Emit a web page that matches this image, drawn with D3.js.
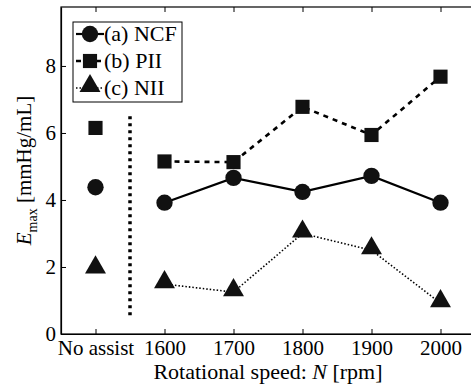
<!DOCTYPE html>
<html><head><meta charset="utf-8">
<script src="https://cdn.jsdelivr.net/npm/d3@7"></script>
<style>svg text, svg tspan { font-family: 'Liberation Serif', 'Times New Roman', Tinos, Times !important; }</style>
</head><body style="margin:0"><svg id="c" width="471" height="385" style="display:block"></svg>
<script>
const categories = ["No assist","1600","1700","1800","1900","2000"];
const ncf = [4.38, 3.92, 4.66, 4.24, 4.72, 3.92];
const pii = [6.15, 5.15, 5.13, 6.78, 5.94, 7.68];
const nii = [1.93, 1.49, 1.25, 3.0, 2.5, 0.92];
const yTicks = [0,2,4,6,8];
const series = [
  {name:"(a) NCF", values:ncf, shape:"circle", dash:null, width:2.2},
  {name:"(b) PII", values:pii, shape:"square", dash:"5,5", width:2.6},
  {name:"(c) NII", values:nii, shape:"triangle", dash:"1.5,2", width:1.6}
];
const separator = {pos:0.5, y0:0.5, y1:6.5};

const svg = d3.select("#c");
const L=61, R=475, T=7, B=334;
const x = d3.scaleLinear().domain([-0.5, categories.length-0.5]).range([L,R]);
const y = d3.scaleLinear().domain([0, 9.76]).range([B,T]);

svg.append("rect").attr("x",L).attr("y",T).attr("width",R-L).attr("height",B-T)
  .attr("fill","none").attr("stroke","#000").attr("stroke-width",1.2);

const xb = svg.append("g").attr("transform",`translate(0,${B})`)
  .call(d3.axisBottom(x).tickValues(d3.range(categories.length)).tickSizeInner(-5).tickSizeOuter(0).tickPadding(6)
    .tickFormat(i=>categories[i]));
xb.attr("font-family","Times New Roman").attr("font-size",21);
xb.select(".domain").attr("stroke-width",1.2);
xb.selectAll("text").attr("fill","#000");
const xt = svg.append("g").attr("transform",`translate(0,${T})`)
  .call(d3.axisTop(x).tickValues(d3.range(categories.length)).tickSizeInner(-5).tickSizeOuter(0).tickFormat(""));
xt.select(".domain").remove();

const yl = svg.append("g").attr("transform",`translate(${L},0)`)
  .call(d3.axisLeft(y).tickValues(yTicks).tickSizeInner(-5).tickSizeOuter(0).tickPadding(5).tickFormat(d3.format("d")));
yl.attr("font-family","Times New Roman").attr("font-size",21);
yl.select(".domain").attr("stroke-width",1.2);
yl.selectAll("text").attr("fill","#000");

svg.append("line").attr("x1",x(separator.pos)).attr("x2",x(separator.pos))
  .attr("y1",y(separator.y1)).attr("y2",y(separator.y0))
  .attr("stroke","#000").attr("stroke-width",3.5).attr("stroke-dasharray","3,4");

const sym = {
  circle: d3.symbol().type(d3.symbolCircle).size(210),
  square: d3.symbol().type(d3.symbolSquare).size(200),
  triangle: d3.symbol().type(d3.symbolTriangle).size(190)
};

series.forEach(s=>{
  const pts = s.values.slice(1).map((v,i)=>[x(i+1), y(v)]);
  const ln = svg.append("path").attr("d", d3.line()(pts)).attr("fill","none")
    .attr("stroke","#000").attr("stroke-width",s.width);
  if (s.dash) ln.attr("stroke-dasharray", s.dash);
  s.values.forEach((v,i)=>{
    svg.append("path").attr("d",sym[s.shape]()).attr("fill","#111")
      .attr("transform",`translate(${x(i)},${y(v)+(s.shape==="triangle"?-2:0)})`);
  });
});

const lg = svg.append("g");
lg.append("rect").attr("x",73).attr("y",22).attr("width",109).attr("height",80)
  .attr("fill","#fff").attr("stroke","#000").attr("stroke-width",1);
series.forEach((s,i)=>{
  const cy = 34 + i*27;
  const l = lg.append("line").attr("x1",76).attr("x2",104).attr("y1",cy).attr("y2",cy)
    .attr("stroke","#000").attr("stroke-width",s.width);
  if (s.dash) l.attr("stroke-dasharray", s.dash);
  lg.append("path").attr("d",sym[s.shape]()).attr("fill","#111")
    .attr("transform",`translate(90,${cy+(s.shape==="triangle"?-2:0)})`);
  svg.append("text").attr("x",104).attr("y",cy+7).attr("font-size",22).attr("font-family","Times New Roman").text(s.name);
});

const xl = svg.append("text").attr("x",(L+R)/2).attr("y",379).attr("text-anchor","middle")
  .attr("font-size",22).attr("font-family","Times New Roman");
xl.append("tspan").text("Rotational speed:  ");
xl.append("tspan").attr("font-style","italic").text("N");
xl.append("tspan").text(" [rpm]");
const yt = svg.append("text").attr("transform",`translate(31,${(T+B)/2}) rotate(-90)`)
  .attr("text-anchor","middle").attr("font-size",21).attr("font-family","Times New Roman");
yt.append("tspan").attr("font-style","italic").text("E");
yt.append("tspan").attr("font-size",14).attr("dy",6).text("max");
yt.append("tspan").attr("dy",-6).text(" [mmHg/mL]");
</script></body></html>
